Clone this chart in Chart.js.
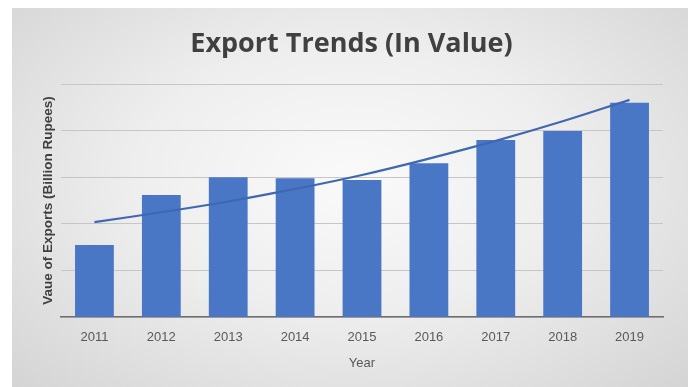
<!DOCTYPE html>
<html>
<head>
<meta charset="utf-8">
<script src="https://cdn.jsdelivr.net/npm/chart.js@4.4.1/dist/chart.umd.min.js"></script>
<style>
    html, body { margin: 0; padding: 0; background: #ffffff; }
    #frame {
        position: absolute;
        left: 12px; top: 8px;
        width: 676px; height: 379px;
        background: radial-gradient(ellipse at 50% 45%, #fafafa 0%, #eeeeee 45%, #d4d4d4 100%);
    }
    #frame canvas { display: block; }
</style>
</head>
<body>
<div id="frame"><canvas id="exportChart" width="676" height="379"></canvas></div>
<script>
// export value per year (billion rupees)
const years = ["2011", "2012", "2013", "2014", "2015", "2016", "2017", "2018", "2019"];
const exportValues = [1.55, 2.62, 3.0, 2.98, 2.94, 3.3, 3.8, 3.99, 4.6];
// trendline read at each year
const trendValues = [2.04, 2.25, 2.48, 2.75, 3.05, 3.40, 3.78, 4.20, 4.66];
const yTicks = [0, 1, 2, 3, 4, 5];

document.addEventListener("DOMContentLoaded", () => {
    const ctx = document.getElementById("exportChart");
    new Chart(ctx, {
        data: {
            labels: years,
            datasets: [{
                type: 'line',
                label: 'Trend',
                data: trendValues,
                borderColor: '#3f68b3',
                borderWidth: 2.2,
                pointRadius: 0,
                tension: 0.4,
                fill: false,
                order: 0
            }, {
                type: 'bar',
                label: 'Exports',
                data: exportValues,
                backgroundColor: '#4a76c6',
                categoryPercentage: 1.0,
                barPercentage: 0.58,
                order: 1
            }]
        },
        options: {
            responsive: false,
            animation: false,
            layout: {
                padding: { left: 28, right: 25, top: 19.8, bottom: 16 }
            },
            plugins: {
                legend: { display: false },
                tooltip: { enabled: false },
                title: {
                    display: true,
                    text: 'Export Trends (In Value)',
                    color: '#404040',
                    font: { family: 'Open Sans', size: 27, weight: 'bold' },
                    padding: { top: 0, bottom: 23.8 }
                }
            },
            scales: {
                x: {
                    grid: { display: false, drawTicks: false },
                    border: { display: true, color: '#6f6f6f', width: 1.5 },
                    ticks: {
                        color: '#595959',
                        font: { family: 'Liberation Sans', size: 13 },
                        padding: 12
                    },
                    title: {
                        display: true,
                        text: 'Year',
                        color: '#595959',
                        font: { family: 'Liberation Sans', size: 13 },
                        padding: { top: -1.4, bottom: 0 }
                    }
                },
                y: {
                    min: yTicks[0],
                    max: yTicks[yTicks.length - 1],
                    afterBuildTicks: axis => {
                        axis.ticks = yTicks.map(v => ({ value: v }));
                    },
                    ticks: { display: false },
                    grid: { color: '#c6c6c6', lineWidth: 1, drawTicks: false },
                    border: { display: false },
                    title: {
                        display: true,
                        text: 'Vaue of Exports (Billion Rupees)',
                        color: '#404040',
                        font: { family: 'Liberation Sans', size: 13.5, weight: 'bold' },
                        padding: { top: 0, bottom: 4.8 }
                    }
                }
            }
        }
    });
});
</script>
</body>
</html>
